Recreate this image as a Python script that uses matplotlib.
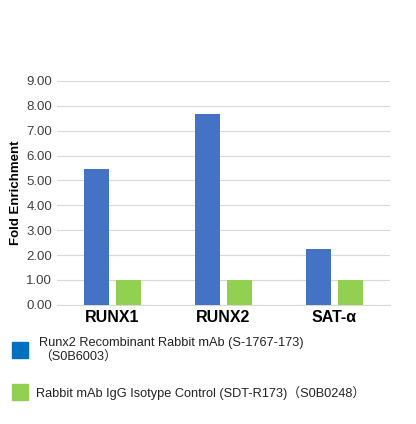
import matplotlib
matplotlib.use("Agg")
import matplotlib.pyplot as plt
import numpy as np

categories = ["RUNX1", "RUNX2", "SAT-α"]
runx2_vals = [5.47, 7.67, 2.25]
igg_vals = [1.0, 1.0, 1.0]
yticks = [0, 1, 2, 3, 4, 5, 6, 7, 8, 9]
label1 = "Runx2 Recombinant Rabbit mAb (S-1767-173)\n（S0B6003）"
label2 = "Rabbit mAb IgG Isotype Control (SDT-R173)（S0B0248）"

plt.rcParams['font.family'] = ['Liberation Sans', 'Noto Sans CJK SC', 'DejaVu Sans']
fig = plt.figure(figsize=(4.16, 4.24), dpi=100)
ax = fig.add_axes([0.137, 0.281, 0.8, 0.528])
x = np.arange(len(categories))
w = 0.225
blue, green = "#4472C4", "#92D050"
ax.bar(x - 0.145, runx2_vals, w, color=blue, zorder=3)
ax.bar(x + 0.145, igg_vals, w, color=green, zorder=3)
ax.set_xlim(-0.5, 2.5)
ax.set_ylim(0, 9)
ax.set_yticks(yticks)
ax.set_yticklabels([f"{v:.2f}" for v in yticks], fontsize=9.5, color="#404040")
ax.set_xticks(x)
ax.set_xticklabels(categories, fontsize=11.5, fontweight="bold")
ax.tick_params(length=0)
ax.grid(axis="y", color="#D9D9D9", lw=0.8, zorder=0)
for s in ["top", "right", "left"]:
    ax.spines[s].set_visible(False)
ax.spines["bottom"].set_color("#D9D9D9")
ax.set_ylabel("Fold Enrichment", fontsize=9.5, fontweight="bold", labelpad=3)

fig.patches.append(plt.Rectangle((12/416, 1-358/424), 16/416, 16/424, color="#0070C0", transform=fig.transFigure))
fig.patches.append(plt.Rectangle((12/416, 1-400/424), 16/416, 16/424, color=green, transform=fig.transFigure))
fig.text(39/416, 1-350/424, label1, fontsize=9.2, va="center", color="#222222", linespacing=1.3)
fig.text(36/416, 1-393/424, label2, fontsize=9.2, va="center", color="#222222")
fig.savefig("out.png", dpi=100)
